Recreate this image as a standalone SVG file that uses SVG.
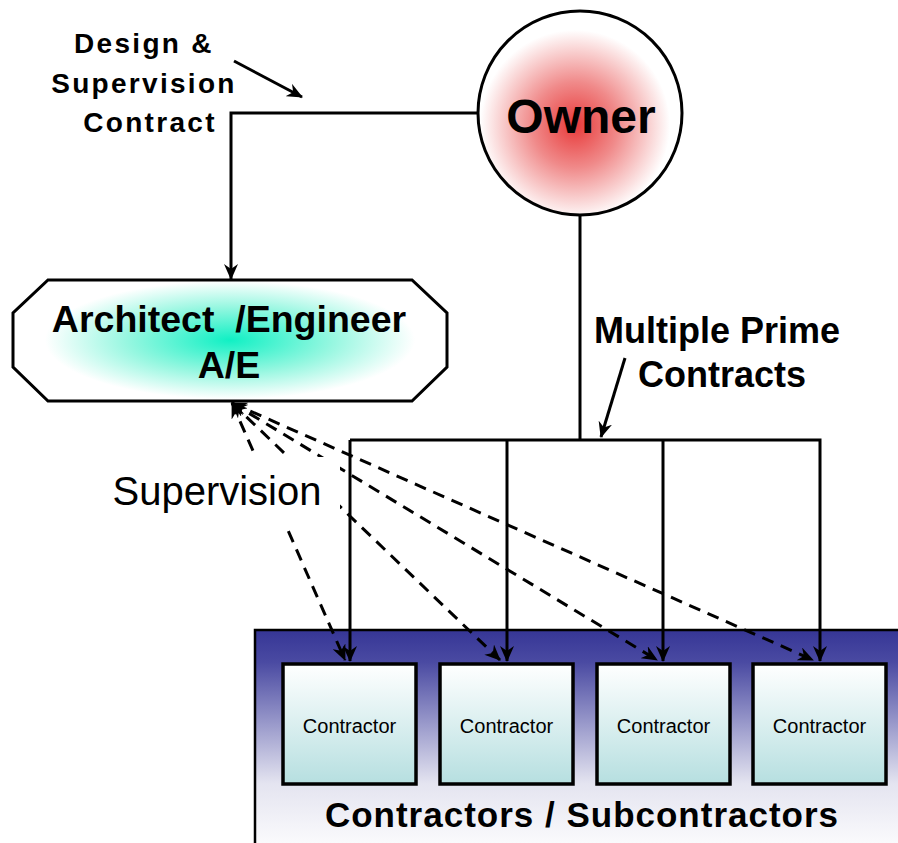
<svg xmlns="http://www.w3.org/2000/svg" width="898" height="843" viewBox="0 0 898 843">
  <style>
    .bold { font-family: "Liberation Sans", Arial, sans-serif; font-weight: bold; fill: #000; }
    .reg { font-family: "Liberation Sans", Arial, sans-serif; fill: #000; }
    .link { fill: none; stroke: #000; stroke-width: 3; }
    .dash { fill: none; stroke: #000; stroke-width: 3; stroke-dasharray: 12 8; }
    .box { stroke: #000; stroke-width: 3.5; fill: url(#boxFill); }
  </style>
  <defs>
    <radialGradient id="ownerFill" cx="575" cy="125" r="95" gradientUnits="userSpaceOnUse">
      <stop offset="0" stop-color="#e83a3a"/>
      <stop offset="0.45" stop-color="#f08a8a"/>
      <stop offset="1" stop-color="#ffffff"/>
    </radialGradient>
    <radialGradient id="aeFill" cx="230" cy="340" r="185" gradientUnits="userSpaceOnUse" gradientTransform="translate(230 340) scale(1 0.32) translate(-230 -340)">
      <stop offset="0" stop-color="#10f0c4"/>
      <stop offset="0.55" stop-color="#95f7e0"/>
      <stop offset="1" stop-color="#ffffff"/>
    </radialGradient>
    <linearGradient id="bandFill" x1="0" y1="630" x2="0" y2="843" gradientUnits="userSpaceOnUse">
      <stop offset="0" stop-color="#363696"/>
      <stop offset="0.15" stop-color="#4a4aa2"/>
      <stop offset="0.45" stop-color="#9c9ccc"/>
      <stop offset="0.72" stop-color="#e4e4f0"/>
      <stop offset="1" stop-color="#fafafc"/>
    </linearGradient>
    <linearGradient id="boxFill" x1="0" y1="0" x2="0" y2="1">
      <stop offset="0" stop-color="#ffffff"/>
      <stop offset="1" stop-color="#b6dfe0"/>
    </linearGradient>
    <marker id="arrow" viewBox="0 0 16 14" refX="15" refY="7" markerWidth="16" markerHeight="14" markerUnits="userSpaceOnUse" orient="auto">
      <path d="M0,0 L16,7 L0,14 L5,7 Z" fill="#000"/>
    </marker>
    <marker id="arrowStart" viewBox="0 0 16 14" refX="1" refY="7" markerWidth="16" markerHeight="14" markerUnits="userSpaceOnUse" orient="auto">
      <path d="M16,0 L0,7 L16,14 L11,7 Z" fill="#000"/>
    </marker>
  </defs>

  <rect width="898" height="843" fill="#fff"/>

  <!-- contractor band -->
  <g id="contractors-band">
    <rect x="255" y="630" width="650" height="220" fill="url(#bandFill)" stroke="#000" stroke-width="2.5"/>
    <text class="bold" x="582" y="827" font-size="35" letter-spacing="1" text-anchor="middle">Contractors / Subcontractors</text>
  </g>

  <g id="contractor-1">
    <rect class="box" x="283" y="664" width="133" height="120"/>
    <text class="reg" x="349.5" y="733" font-size="20" text-anchor="middle">Contractor</text>
  </g>
  <g id="contractor-2">
    <rect class="box" x="440" y="664" width="133" height="120"/>
    <text class="reg" x="506.5" y="733" font-size="20" text-anchor="middle">Contractor</text>
  </g>
  <g id="contractor-3">
    <rect class="box" x="597" y="664" width="133" height="120"/>
    <text class="reg" x="663.5" y="733" font-size="20" text-anchor="middle">Contractor</text>
  </g>
  <g id="contractor-4">
    <rect class="box" x="753" y="664" width="133" height="120"/>
    <text class="reg" x="819.5" y="733" font-size="20" text-anchor="middle">Contractor</text>
  </g>

  <!-- connectors -->
  <g id="connectors">
    <polyline class="link" points="478,113 231,113 231,279" marker-end="url(#arrow)"/>
    <line class="link" x1="580" y1="215" x2="580" y2="440"/>
    <polyline class="link" points="350,440 820,440 820,661" marker-end="url(#arrow)"/>
    <line class="link" x1="350" y1="440" x2="350" y2="661" marker-end="url(#arrow)"/>
    <line class="link" x1="507" y1="440" x2="507" y2="661" marker-end="url(#arrow)"/>
    <line class="link" x1="663" y1="440" x2="663" y2="661" marker-end="url(#arrow)"/>
    <!-- supervision lines -->
    <line class="dash" x1="232" y1="403" x2="345" y2="660" marker-start="url(#arrowStart)" marker-end="url(#arrow)"/>
    <line class="dash" x1="232" y1="403" x2="500" y2="660" marker-start="url(#arrowStart)" marker-end="url(#arrow)"/>
    <line class="dash" x1="232" y1="403" x2="657" y2="660" marker-start="url(#arrowStart)" marker-end="url(#arrow)"/>
    <line class="dash" x1="232" y1="403" x2="813" y2="660" marker-start="url(#arrowStart)" marker-end="url(#arrow)"/>
    <!-- label pointers -->
    <line x1="234" y1="61" x2="302" y2="97" stroke="#000" stroke-width="3" marker-end="url(#arrow)"/>
    <line x1="625" y1="358" x2="601" y2="437" stroke="#000" stroke-width="3" marker-end="url(#arrow)"/>
  </g>

  <!-- connector labels -->
  <g id="label-design">
    <text class="bold" font-size="28" letter-spacing="2.3" text-anchor="middle">
      <tspan x="149" y="53">Design &amp;</tspan>
      <tspan x="149" y="93">Supervision</tspan>
      <tspan x="150" y="132">Contract</tspan>
    </text>
  </g>
  <g id="label-prime">
    <text class="bold" font-size="36" text-anchor="middle">
      <tspan x="722" y="343">Multiple Prime</tspan>
      <tspan x="722" y="387">Contracts</tspan>
    </text>
  </g>
  <g id="label-supervision">
    <rect x="100" y="457" width="240" height="69" fill="#fff"/>
    <text class="reg" x="217" y="505" font-size="40" text-anchor="middle">Supervision</text>
  </g>

  <g id="owner">
    <circle cx="580" cy="113" r="102" fill="url(#ownerFill)" stroke="#000" stroke-width="3"/>
    <text class="bold" x="581" y="133" font-size="48" text-anchor="middle">Owner</text>
  </g>

  <g id="architect-engineer">
    <polygon points="48,280 412,280 447,313 447,367 412,401 48,401 13,367 13,313" fill="url(#aeFill)" stroke="#000" stroke-width="3"/>
    <text class="bold" x="229" y="332" font-size="37.5" text-anchor="middle" xml:space="preserve">Architect  /Engineer</text>
    <text class="bold" x="229" y="378" font-size="37.5" text-anchor="middle">A/E</text>
  </g>
</svg>
